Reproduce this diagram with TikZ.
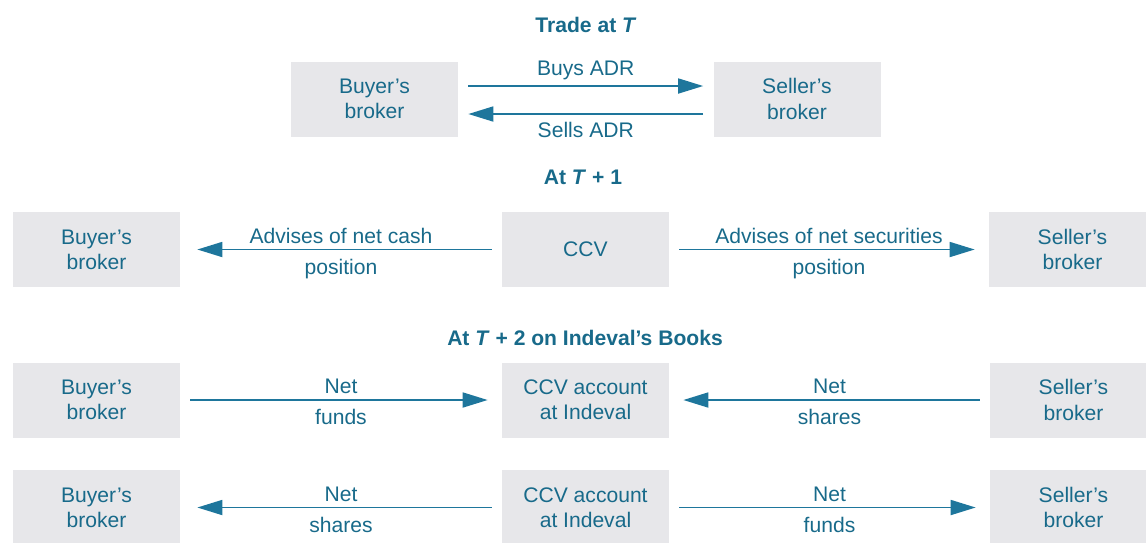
\documentclass[tikz,border=0pt]{standalone}
\usepackage{fontspec}
\setsansfont{Liberation Sans}
\usetikzlibrary{arrows.meta,positioning}
\definecolor{adrText}{RGB}{24,106,138}
\definecolor{adrLine}{RGB}{30,118,156}
\definecolor{adrBox}{RGB}{231,231,234}
\tikzset{adrpanel/.style={
  font=\sffamily\fontsize{12}{14.4}\selectfont, text=adrText,
  broker/.style={fill=adrBox, draw=none, minimum width=3.34cm, minimum height=1.5cm, inner sep=2pt, align=center},
  flow/.style={-{Triangle[length=5mm, width=3mm]}, line width=1pt, draw=adrLine, shorten >=0.28cm, shorten <=0.2cm},
  heading/.style={font=\sffamily\bfseries\fontsize{12}{14.4}\selectfont},
  lab/.style={inner sep=3pt, text=adrText},
}}

\begin{document}
\begin{tikzpicture}[adrpanel]
\useasboundingbox (0,0) rectangle (22.92,-10.84);

% ---- trade at T ----
\node[heading] (hA) at (11.72,-0.5) {Trade at \textit{T}};
\node[broker] (buyA)  at (7.49,-1.98)  {Buyer's\\broker};
\node[broker] (sellA) at (15.94,-1.98) {Seller's\\broker};
\draw[flow, shorten >=0.2cm] ([yshift=0.26cm]buyA.east) -- ([yshift=0.26cm]sellA.west)
  node[lab, midway, above] {Buys ADR};
\draw[flow, shorten >=0.2cm] ([yshift=-0.3cm]sellA.west) -- ([yshift=-0.3cm]buyA.east)
  node[lab, midway, below=1pt] {Sells ADR};

% ---- at T+1: CCV advises both brokers ----
\node[heading] (hB) at (11.66,-3.54) {At \textit{T} + 1};
\node[broker] (buyB)  at (1.93,-4.99)  {Buyer's\\broker};
\node[broker] (ccvB)  at (11.71,-4.99) {CCV};
\node[broker] (sellB) at (21.45,-4.99) {Seller's\\broker};
\draw[flow, shorten >=0.34cm] (ccvB.west) -- (buyB.east)
  node[lab, midway, above] {Advises of net cash}
  node[lab, midway, below=2pt] {position};
\draw[flow] (ccvB.east) -- (sellB.west)
  node[lab, midway, above] {Advises of net securities}
  node[lab, midway, below=2pt] {position};

% ---- at T+2: into the CCV account ----
\node[heading] (hC) at (11.7,-6.76) {At \textit{T} + 2 on Indeval's Books};
\node[broker] (buyC)  at (1.93,-8.0)  {Buyer's\\broker};
\node[broker] (ccvC)  at (11.71,-8.0) {CCV account\\at Indeval};
\node[broker] (sellC) at (21.47,-8.0) {Seller's\\broker};
\draw[flow] (buyC.east) -- (ccvC.west)
  node[lab, midway, above] {Net}
  node[lab, midway, below=2pt] {funds};
\draw[flow] (sellC.west) -- (ccvC.east)
  node[lab, midway, above] {Net}
  node[lab, midway, below=2pt] {shares};

% ---- at T+2: out of the CCV account ----
\node[broker] (buyD)  at (1.93,-10.15)  {Buyer's\\broker};
\node[broker] (ccvD)  at (11.71,-10.15) {CCV account\\at Indeval};
\node[broker] (sellD) at (21.47,-10.15) {Seller's\\broker};
\draw[flow, shorten >=0.34cm] (ccvD.west) -- (buyD.east)
  node[lab, midway, above] {Net}
  node[lab, midway, below=2pt] {shares};
\draw[flow] (ccvD.east) -- (sellD.west)
  node[lab, midway, above] {Net}
  node[lab, midway, below=2pt] {funds};
\end{tikzpicture}
\end{document}
